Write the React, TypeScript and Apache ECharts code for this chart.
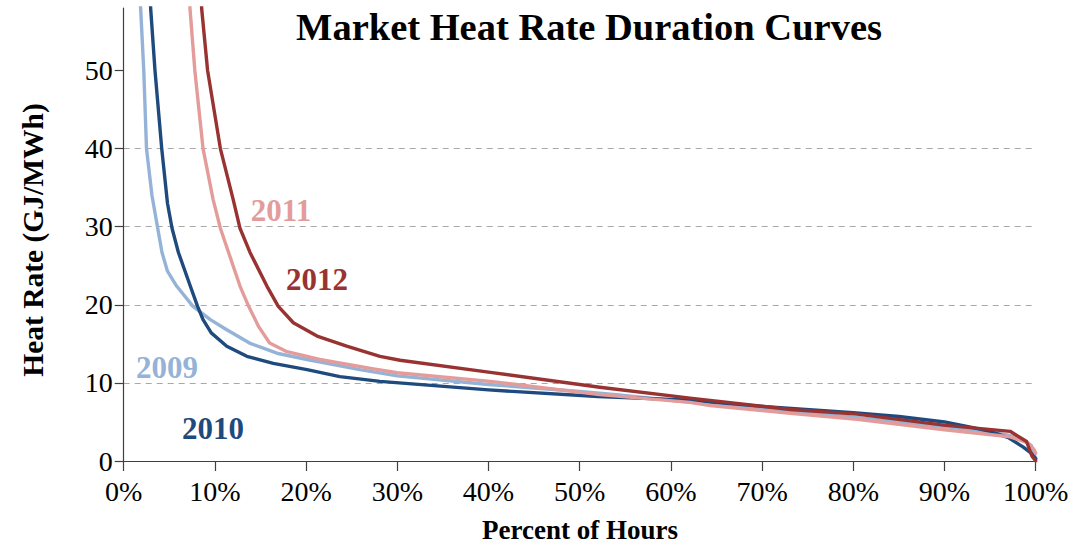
import React, { useEffect, useRef } from "react";
import * as echarts from "echarts";

const YEARS = ["2009", "2010", "2011", "2012"];
const COLORS = ["#95B3D7", "#1F4A7E", "#E49C9B", "#983332"];

const s2009: [number, number][] = [
  [1.6, 62], [1.86, 57.9], [2.2, 50], [2.5, 40], [3.1, 34], [3.7, 30], [4.2, 26.7], [4.8, 24.3],
  [5.8, 22.4], [7.6, 19.8], [9.5, 18.1], [11.3, 16.8], [13.8, 15.1], [16.8, 13.8], [20.1, 13.0],
  [25.9, 11.7], [30, 10.9], [40, 9.8], [50, 8.9], [54, 8.5], [64, 7.3], [70, 6.6], [80, 5.6],
  [90, 4.4], [95, 3.7], [97, 3.3], [98.5, 2.8], [99.5, 2.0], [100, 0.3],
];
const s2010: [number, number][] = [
  [2.8, 62], [2.96, 57.9], [3.43, 50], [4.17, 40], [4.8, 33], [5.3, 29.8], [6.0, 26.7], [7.3, 22.4],
  [8.1, 19.8], [8.7, 18.1], [9.6, 16.4], [11.3, 14.7], [13.5, 13.4], [16.4, 12.5], [20.1, 11.7],
  [23.7, 10.8], [28.1, 10.2], [40, 9.1], [52, 8.25], [62, 7.8], [70, 7.0], [80, 6.2], [85, 5.7],
  [90, 5.0], [93, 4.3], [95, 3.8], [97, 3.0], [98.6, 1.8], [99.5, 1.0], [100, 0.3],
];
const s2011: [number, number][] = [
  [7.1, 62], [7.27, 57.9], [7.8, 50], [8.7, 40], [9.8, 33.5], [10.6, 29.8], [11.5, 26.7], [12.75, 22.4],
  [13.7, 19.8], [14.8, 17.2], [16.0, 15.1], [17.9, 14.0], [21.5, 13.0], [27.4, 11.8], [30, 11.3],
  [40.2, 10.2], [52.2, 8.5], [62.1, 7.5], [64.3, 7.1], [73.1, 6.1], [80.4, 5.35], [90, 4.0],
  [97.2, 3.1], [99.2, 2.3], [99.8, 1.5], [100, 1.0],
];
const s2012: [number, number][] = [
  [8.4, 62], [8.55, 57.9], [9.2, 50], [10.6, 40], [12.0, 33.5], [12.75, 29.8], [13.85, 26.7], [15.7, 22.4],
  [16.95, 19.8], [18.6, 17.7], [21.2, 16.0], [24.45, 14.7], [28.1, 13.4], [30.3, 12.9], [40.2, 11.35],
  [52.2, 9.45], [62.1, 8.05], [73.1, 6.6], [80.4, 6.0], [89.9, 4.6], [97.2, 3.8], [99, 2.5],
  [99.6, 0.6], [100, 0],
];
const SERIES = [s2009, s2010, s2011, s2012];

const Y_TICKS = [0, 10, 20, 30, 40, 50];
const TITLE = "Market Heat Rate Duration Curves";
const X_NAME = "Percent of Hours";
const Y_NAME = "Heat Rate (GJ/MWh)";

const LABEL_POS: [number, number][] = [
  [167, 367],
  [213, 428],
  [281, 210],
  [317, 279],
];

const FONT = "'Liberation Serif', 'Times New Roman', serif";

export default function App() {
  const ref = useRef<HTMLDivElement>(null);
  useEffect(() => {
    if (!ref.current) return;
    const chart = echarts.init(ref.current, null, { renderer: "svg" });
    const axisColor = "#404040";
    chart.setOption({
      animation: false,
      backgroundColor: "#ffffff",
      grid: { left: 123.7, right: 51.3, top: 8, bottom: 88, containLabel: false },
      xAxis: {
        type: "value",
        min: 0,
        max: 100,
        interval: 10,
        axisLine: { show: true, lineStyle: { color: axisColor, width: 1.2 } },
        axisTick: { show: true, length: 10, lineStyle: { color: axisColor, width: 1.2 } },
        axisLabel: {
          formatter: "{value}%",
          fontSize: 28,
          fontFamily: FONT,
          color: "#000",
          margin: 16,
        },
        splitLine: { show: false },
      },
      yAxis: {
        type: "value",
        min: 0,
        max: 58,
        interval: 10,
        axisLine: { show: true, lineStyle: { color: axisColor, width: 1.2 } },
        axisTick: { show: true, length: 9, customValues: Y_TICKS, lineStyle: { color: axisColor, width: 1.2 } },
        axisLabel: {
          customValues: Y_TICKS,
          fontSize: 28,
          fontFamily: FONT,
          color: "#000",
          margin: 11,
        },
        splitLine: {
          show: true,
          showMinLine: false,
          showMaxLine: false,
          lineStyle: { color: "#A8A8A8", type: [6, 5], width: 1.2 },
        },
      },
      series: SERIES.map((d, i) => ({
        name: YEARS[i],
        type: "line",
        data: d,
        showSymbol: false,
        symbol: "none",
        clip: true,
        smooth: false,
        lineStyle: { color: COLORS[i], width: 3.4, join: "round", cap: "round" },
        z: 2 + i,
      })),
      graphic: [
        {
          type: "text",
          x: 589,
          y: 27,
          style: {
            text: TITLE,
            font: `bold 38.5px ${FONT}`,
            fill: "#000",
            align: "center",
            verticalAlign: "middle",
          },
        },
        {
          type: "text",
          x: 580,
          y: 530,
          style: {
            text: X_NAME,
            font: `bold 27px ${FONT}`,
            fill: "#000",
            align: "center",
            verticalAlign: "middle",
          },
        },
        {
          type: "text",
          x: 33,
          y: 240,
          rotation: Math.PI / 2,
          style: {
            text: Y_NAME,
            font: `bold 29.5px ${FONT}`,
            fill: "#000",
            align: "center",
            verticalAlign: "middle",
          },
        },
        ...YEARS.map((yr, i) => ({
          type: "text",
          x: LABEL_POS[i][0],
          y: LABEL_POS[i][1],
          z: 10,
          style: {
            text: yr,
            font: `bold 31px ${FONT}`,
            fill: COLORS[i],
            align: "center",
            verticalAlign: "middle",
          },
        })),
      ],
    });
    return () => chart.dispose();
  }, []);
  return (
    <div
      ref={ref}
      style={{ position: "absolute", left: 0, top: 0, width: 1087, height: 549 }}
    />
  );
}
